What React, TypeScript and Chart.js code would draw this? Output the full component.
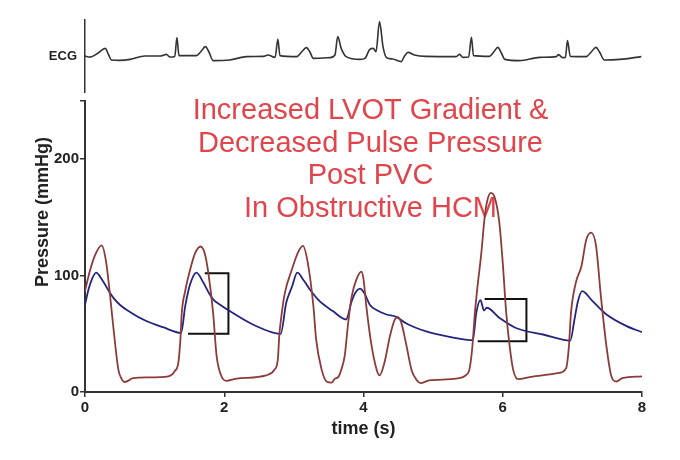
import React, { useEffect, useRef } from 'react';
import { Chart, registerables } from 'chart.js';

Chart.register(...registerables);

// ---- data ----
const xTicks = [0, 2, 4, 6, 8];
const yTicks = [0, 100, 200, 250];
const yLabelled = [0, 100, 200];

const xTitle = 'time (s)';
const yTitle = 'Pressure (mmHg)';
const ecgLabel = 'ECG';
const annotationLines = [
  'Increased LVOT Gradient &',
  'Decreased Pulse Pressure',
  'Post PVC',
  'In Obstructive HCM',
];

// ECG trace: [time s, arbitrary mV]
const ecgTrace: [number, number][] = [
  [0, 0], [0.07, -0.05], [0.19, 0.15], [0.29, 0.38], [0.34, 0.05], [0.38, -0.2], [0.5, -0.22],
  [0.65, -0.17], [0.86, 0], [1.08, 0], [1.17, 0.08], [1.22, -0.05], [1.29, -0.02], [1.32, 0.92],
  [1.35, 0.02], [1.6, 0.02], [1.66, 0.2], [1.73, 0.47], [1.78, 0.2], [1.84, -0.23], [2.08, -0.2],
  [2.32, -0.03], [2.56, -0.02], [2.63, 0.05], [2.73, -0.07], [2.77, 0.83], [2.8, 0.02], [3.04, -0.03],
  [3.11, 0.2], [3.18, 0.42], [3.23, 0.2], [3.28, -0.12], [3.52, -0.08], [3.59, 0.05], [3.63, 0.97],
  [3.68, 0.38], [3.75, -0.03], [3.95, -0.17], [4.02, -0.12], [4.09, 0.33], [4.14, 0.38], [4.18, 0.22],
  [4.23, 1.72], [4.28, 0.47], [4.33, -0.08], [4.42, -0.15], [4.54, -0.28], [4.59, 0], [4.64, 0.18],
  [4.73, 0.05], [4.9, -0.02], [5.33, -0.03], [5.38, 0.08], [5.43, -0.07], [5.51, -0.05], [5.55, 0.93],
  [5.58, 0.02], [5.81, -0.02], [5.87, 0.2], [5.93, 0.43], [5.98, 0.15], [6.03, -0.17], [6.24, -0.23],
  [6.53, -0.07], [6.77, -0.03], [6.8, 0.07], [6.86, -0.08], [6.9, -0.07], [6.93, 0.77], [6.97, -0.02],
  [7.2, -0.03], [7.27, 0.2], [7.34, 0.43], [7.39, 0.2], [7.46, -0.2], [7.68, -0.17], [7.99, -0.03],
];

// LV pressure: [time s, mmHg]
const lvPressure: [number, number][] = [
  [0, 87], [0.07, 104], [0.14, 117], [0.24, 126], [0.3, 113], [0.36, 83], [0.41, 54], [0.48, 19],
  [0.52, 12], [0.57, 8.6], [0.63, 10], [0.69, 12], [0.9, 12.5], [1.2, 13.5], [1.29, 18], [1.34, 25],
  [1.37, 45], [1.39, 68], [1.44, 87], [1.51, 105], [1.58, 119], [1.66, 125], [1.72, 119], [1.77, 103],
  [1.84, 68], [1.89, 31], [1.96, 13.5], [2.03, 9.6], [2.18, 11.5], [2.6, 14.3], [2.72, 19], [2.77, 28],
  [2.79, 48], [2.82, 65], [2.87, 85], [2.97, 105], [3.06, 120], [3.13, 125.5], [3.2, 111], [3.28, 74],
  [3.32, 45], [3.4, 19], [3.47, 9], [3.54, 8], [3.59, 11.5], [3.64, 13], [3.68, 19], [3.73, 31],
  [3.78, 59.5], [3.83, 82], [3.9, 97], [3.97, 103.4], [4.0, 97], [4.04, 74], [4.11, 42], [4.19, 19],
  [4.23, 14.3], [4.3, 25], [4.38, 48], [4.45, 62.3], [4.49, 64.3], [4.54, 60], [4.61, 42], [4.69, 19],
  [4.76, 10.6], [4.83, 7.7], [4.94, 10], [5.33, 11.5], [5.48, 14.9], [5.52, 19], [5.56, 36.5], [5.6, 68],
  [5.64, 92], [5.69, 118], [5.74, 150], [5.78, 165], [5.83, 171], [5.89, 166], [5.95, 146], [6.0, 111],
  [6.05, 68], [6.1, 39], [6.15, 19], [6.22, 11], [6.4, 13], [6.81, 16.4], [6.91, 20.5], [6.95, 39],
  [6.98, 68], [7.05, 94], [7.13, 108], [7.2, 131], [7.27, 137], [7.34, 125.5], [7.41, 82], [7.49, 39],
  [7.56, 13.5], [7.63, 9], [7.72, 12], [8.0, 13.5],
];

// Aortic pressure: [time s, mmHg]
const aoPressure: [number, number][] = [
  [0, 75], [0.05, 88], [0.1, 97], [0.16, 102.6], [0.25, 96], [0.36, 85], [0.42, 80], [0.5, 75],
  [0.65, 68.6], [0.88, 61], [1.12, 55.7], [1.38, 50.8], [1.44, 74], [1.51, 92.5], [1.6, 102.6],
  [1.7, 94], [1.79, 84], [1.85, 79], [1.94, 75], [2.08, 69.5], [2.41, 58], [2.81, 50], [2.89, 76.7],
  [2.97, 90], [3.05, 102.6], [3.14, 96], [3.23, 88], [3.37, 78], [3.56, 69.5], [3.75, 62.3], [3.83, 78],
  [3.89, 86], [3.95, 88.8], [4.02, 84], [4.09, 75], [4.2, 70], [4.33, 66.6], [4.47, 64.6], [4.61, 59],
  [4.9, 52], [5.24, 47.4], [5.57, 44.5], [5.62, 68], [5.68, 79], [5.73, 70], [5.77, 72.4], [5.95, 63.8],
  [6.19, 55], [6.58, 49.4], [6.97, 44.2], [7.03, 62.3], [7.08, 78], [7.14, 86.7], [7.29, 78],
  [7.49, 66.6], [7.78, 56.6], [8.0, 51.4],
];

// Pulse pressure brackets: [time s, mmHg]
const bracketNormal: [number, number][] = [[1.72, 102], [2.06, 102], [2.06, 50], [1.48, 50]];
const bracketPostPvc: [number, number][] = [[5.74, 80], [6.34, 80], [6.34, 43.6], [5.64, 43.6]];

// ---- styling ----
const FONT = "'Liberation Sans Narrow', 'Arial Narrow', 'Liberation Sans', Arial, sans-serif";
const TEXT_FONT = "'Liberation Sans', Arial, sans-serif";
const INK = '#222';

const toXY = (arr: [number, number][]) => arr.map(([x, y]) => ({ x, y }));

const annotationPlugin = {
  id: 'annotationText',
  beforeDatasetsDraw(chart: any) {
    const ctx = chart.ctx;
    ctx.save();
    ctx.fillStyle = '#e1454b';
    ctx.font = `29px ${TEXT_FONT}`;
    ctx.textAlign = 'center';
    ctx.textBaseline = 'middle';
    annotationLines.forEach((line, i) => {
      ctx.fillText(line, 370.5, 111 + i * 32.5);
    });
    ctx.restore();
  },
};

const yTitlePlugin = {
  id: 'yTitle',
  afterDraw(chart: any) {
    const ctx = chart.ctx;
    ctx.save();
    ctx.translate(43, 212);
    ctx.rotate(-Math.PI / 2);
    ctx.fillStyle = INK;
    ctx.font = `bold 18px ${FONT}`;
    ctx.textAlign = 'center';
    ctx.textBaseline = 'middle';
    ctx.fillText(yTitle, 0, 0);
    ctx.restore();
  },
};

export default function App() {
  const ecgRef = useRef<HTMLCanvasElement>(null);
  const mainRef = useRef<HTMLCanvasElement>(null);

  useEffect(() => {
    const ecgChart = new Chart(ecgRef.current!, {
      type: 'line',
      data: {
        datasets: [
          {
            label: 'ECG',
            data: toXY(ecgTrace),
            borderColor: '#333',
            borderWidth: 1.6,
            pointRadius: 0,
            cubicInterpolationMode: 'monotone',
            fill: false,
          },
        ],
      },
      options: {
        animation: false,
        responsive: false,
        layout: { padding: { left: 0, right: 38, top: 20, bottom: 368 } },
        plugins: { legend: { display: false }, tooltip: { enabled: false } },
        scales: {
          x: { type: 'linear', min: 0, max: 8, display: false },
          y: {
            type: 'linear',
            min: -1.8,
            max: 1.8,
            afterBuildTicks: (s: any) => {
              s.ticks = [{ value: 0 }];
            },
            afterFit: (s: any) => {
              s.width = 85;
            },
            grid: { display: false, drawTicks: false },
            border: { display: true, color: '#333', width: 1.5 },
            ticks: {
              callback: () => ecgLabel,
              color: INK,
              padding: 8,
              font: { family: FONT, weight: 'bold', size: 13 },
            },
          },
        },
      },
    } as any);

    const mainChart = new Chart(mainRef.current!, {
      type: 'line',
      data: {
        datasets: [
          {
            label: 'LV pressure',
            data: toXY(lvPressure),
            borderColor: '#8c3b3b',
            borderWidth: 1.8,
            pointRadius: 0,
            cubicInterpolationMode: 'monotone',
            fill: false,
          },
          {
            label: 'Aortic pressure',
            data: toXY(aoPressure),
            borderColor: '#25257f',
            borderWidth: 1.8,
            pointRadius: 0,
            cubicInterpolationMode: 'monotone',
            fill: false,
          },
          {
            label: 'Pulse pressure',
            data: toXY(bracketNormal),
            borderColor: '#111',
            borderWidth: 2,
            pointRadius: 0,
            tension: 0,
            fill: false,
          },
          {
            label: 'Pulse pressure post PVC',
            data: toXY(bracketPostPvc),
            borderColor: '#111',
            borderWidth: 2,
            pointRadius: 0,
            tension: 0,
            fill: false,
          },
        ],
      },
      options: {
        animation: false,
        responsive: false,
        layout: { padding: { left: 0, right: 38, top: 101, bottom: 0 } },
        plugins: { legend: { display: false }, tooltip: { enabled: false } },
        scales: {
          x: {
            type: 'linear',
            min: 0,
            max: 8,
            afterBuildTicks: (s: any) => {
              s.ticks = xTicks.map((v) => ({ value: v }));
            },
            afterFit: (s: any) => {
              s.height = 68;
            },
            grid: { drawOnChartArea: false, drawTicks: true, tickLength: 5, color: '#333', lineWidth: 1.5 },
            border: { display: true, color: '#333', width: 2 },
            ticks: {
              color: INK,
              padding: 2,
              maxRotation: 0,
              autoSkip: false,
              font: { family: FONT, weight: 'bold', size: 15 },
            },
            title: {
              display: true,
              text: xTitle,
              color: INK,
              font: { family: FONT, weight: 'bold', size: 18 },
              padding: { top: 0, bottom: 20 },
            },
          },
          y: {
            type: 'linear',
            min: 0,
            max: 250,
            afterBuildTicks: (s: any) => {
              s.ticks = yTicks.map((v) => ({ value: v }));
            },
            afterFit: (s: any) => {
              s.width = 85;
            },
            grid: { drawOnChartArea: false, drawTicks: true, tickLength: 5, color: '#333', lineWidth: 1.5 },
            border: { display: true, color: '#333', width: 2 },
            ticks: {
              color: INK,
              padding: 1,
              autoSkip: false,
              callback: (v: any) => (yLabelled.includes(Number(v)) ? String(v) : ''),
              font: { family: FONT, weight: 'bold', size: 15 },
            },
          },
        },
      },
      plugins: [annotationPlugin, yTitlePlugin],
    } as any);

    return () => {
      ecgChart.destroy();
      mainChart.destroy();
    };
  }, []);

  return (
    <div style={{ position: 'fixed', left: 0, top: 0, width: 680, height: 460, background: '#fff' }}>
      <canvas ref={mainRef} width={680} height={460} style={{ position: 'absolute', left: 0, top: 0 }} />
      <canvas ref={ecgRef} width={680} height={460} style={{ position: 'absolute', left: 0, top: 0 }} />
    </div>
  );
}
